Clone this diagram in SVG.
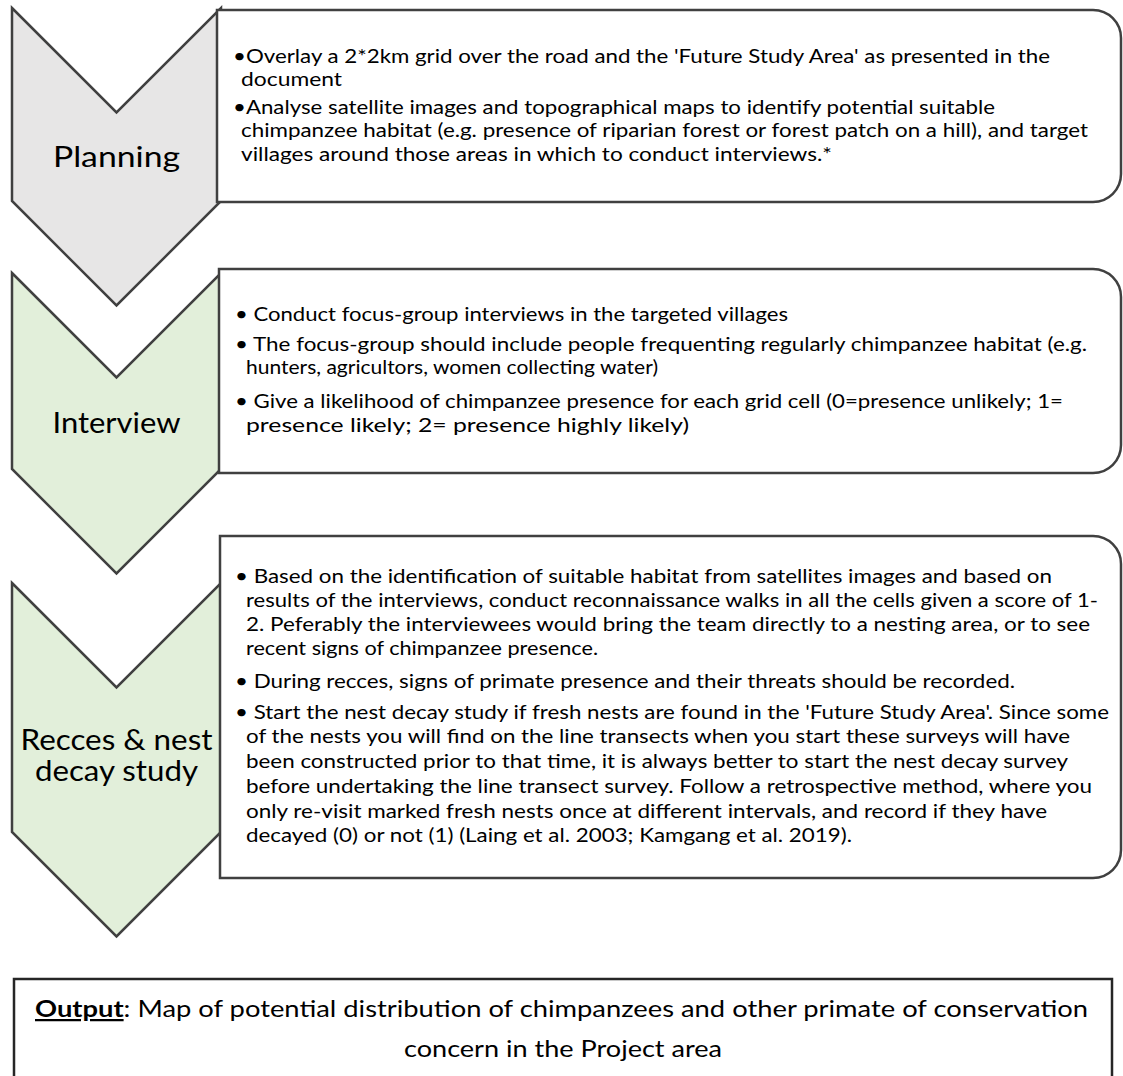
<svg xmlns="http://www.w3.org/2000/svg" width="1123" height="1076" viewBox="0 0 1123 1076">
<style>
.chev{stroke:#404040;stroke-width:2.5;stroke-linejoin:miter}
.gray{fill:#E7E6E6}
.green{fill:#E2EFDA}
.box{fill:#FFFFFF;stroke:#404040;stroke-width:2.5}
.lbl{font-family:Lato,"Open Sans","Liberation Sans",sans-serif;font-size:28px;fill:#000;text-anchor:middle}
.t{font-family:Lato,"Open Sans","Liberation Sans",sans-serif;font-size:18.5px;fill:#000}
.out{font-family:Lato,"Open Sans","Liberation Sans",sans-serif;font-size:22.5px;fill:#000}
</style>
<rect width="1123" height="1076" fill="#FFFFFF"/>

<g id="planning">
<path class="chev gray" d="M12,8 L116.5,112.5 L221,8 L221,201 L116.5,305.5 L12,201 Z"/>
<path class="box" d="M217,10 H1093 A28,28 0 0 1 1121,38 V174 A28,28 0 0 1 1093,202 H217 Z"/>
<text class="lbl" x="116.5" y="167" textLength="127" lengthAdjust="spacingAndGlyphs">Planning</text>
<text class="t" x="233" y="63" textLength="817" lengthAdjust="spacingAndGlyphs">•Overlay a 2*2km grid over the road and the 'Future Study Area' as presented in the</text>
<text class="t" x="241" y="86" textLength="101" lengthAdjust="spacingAndGlyphs">document</text>
<text class="t" x="233" y="114" textLength="762" lengthAdjust="spacingAndGlyphs">•Analyse satellite images and topographical maps to identify potential suitable</text>
<text class="t" x="241" y="137" textLength="847" lengthAdjust="spacingAndGlyphs">chimpanzee habitat (e.g. presence of riparian forest or forest patch on a hill), and target</text>
<text class="t" x="241" y="161" textLength="591" lengthAdjust="spacingAndGlyphs">villages around those areas in which to conduct interviews.*</text>
</g>

<g id="interview">
<path class="chev green" d="M12,273 L116.5,377.5 L221,273 L221,469 L116.5,573.5 L12,469 Z"/>
<path class="box" d="M219,269 H1093 A28,28 0 0 1 1121,297 V445 A28,28 0 0 1 1093,473 H219 Z"/>
<text class="lbl" x="116.5" y="433" textLength="128" lengthAdjust="spacingAndGlyphs">Interview</text>
<text class="t" x="235" y="321" textLength="553" lengthAdjust="spacingAndGlyphs">• Conduct focus-group interviews in the targeted villages</text>
<text class="t" x="235" y="351" textLength="852" lengthAdjust="spacingAndGlyphs">• The focus-group should include people frequenting regularly chimpanzee habitat (e.g.</text>
<text class="t" x="246" y="374" textLength="412" lengthAdjust="spacingAndGlyphs">hunters, agricultors, women collecting water)</text>
<text class="t" x="235" y="408" textLength="828" lengthAdjust="spacingAndGlyphs">• Give a likelihood of chimpanzee presence for each grid cell (0=presence unlikely; 1=</text>
<text class="t" x="246" y="432" textLength="443" lengthAdjust="spacingAndGlyphs">presence likely; 2= presence highly likely)</text>
</g>

<g id="recces">
<path class="chev green" d="M12,583 L116.5,687.5 L221,583 L221,832 L116.5,936.5 L12,832 Z"/>
<path class="box" d="M220,536 H1093 A28,28 0 0 1 1121,564 V850 A28,28 0 0 1 1093,878 H220 Z"/>
<text class="lbl" x="116.5" y="750" textLength="192" lengthAdjust="spacingAndGlyphs">Recces &amp; nest</text>
<text class="lbl" x="116.5" y="781" textLength="163" lengthAdjust="spacingAndGlyphs">decay study</text>
<text class="t" x="235" y="583" textLength="817" lengthAdjust="spacingAndGlyphs">• Based on the identification of suitable habitat from satellites images and based on</text>
<text class="t" x="246" y="607" textLength="852" lengthAdjust="spacingAndGlyphs">results of the interviews, conduct reconnaissance walks in all the cells given a score of 1-</text>
<text class="t" x="246" y="631" textLength="844" lengthAdjust="spacingAndGlyphs">2. Peferably the interviewees would bring the team directly to a nesting area, or to see</text>
<text class="t" x="246" y="655" textLength="352" lengthAdjust="spacingAndGlyphs">recent signs of chimpanzee presence.</text>
<text class="t" x="235" y="688" textLength="780" lengthAdjust="spacingAndGlyphs">• During recces, signs of primate presence and their threats should be recorded.</text>
<text class="t" x="235" y="719" textLength="874" lengthAdjust="spacingAndGlyphs">• Start the nest decay study if fresh nests are found in the 'Future Study Area'. Since some</text>
<text class="t" x="246" y="743" textLength="824" lengthAdjust="spacingAndGlyphs">of the nests you will find on the line transects when you start these surveys will have</text>
<text class="t" x="246" y="768" textLength="822" lengthAdjust="spacingAndGlyphs">been constructed prior to that time, it is always better to start the nest decay survey</text>
<text class="t" x="246" y="793" textLength="846" lengthAdjust="spacingAndGlyphs">before undertaking the line transect survey. Follow a retrospective method, where you</text>
<text class="t" x="246" y="818" textLength="801" lengthAdjust="spacingAndGlyphs">only re-visit marked fresh nests once at different intervals, and record if they have</text>
<text class="t" x="246" y="842" textLength="606" lengthAdjust="spacingAndGlyphs">decayed (0) or not (1) (Laing et al. 2003; Kamgang et al. 2019).</text>
</g>

<g id="output">
<rect x="14" y="979" width="1098" height="120" fill="#FFFFFF" stroke="#262626" stroke-width="2.5"/>
<text class="out" x="35" y="1017" textLength="1053" lengthAdjust="spacingAndGlyphs"><tspan font-weight="bold" text-decoration="underline">Output</tspan>: Map of potential distribution of chimpanzees and other primate of conservation</text>
<text class="out" x="563" y="1057" text-anchor="middle" textLength="318" lengthAdjust="spacingAndGlyphs">concern in the Project area</text>
</g>

<g id="connectors"></g>
</svg>
